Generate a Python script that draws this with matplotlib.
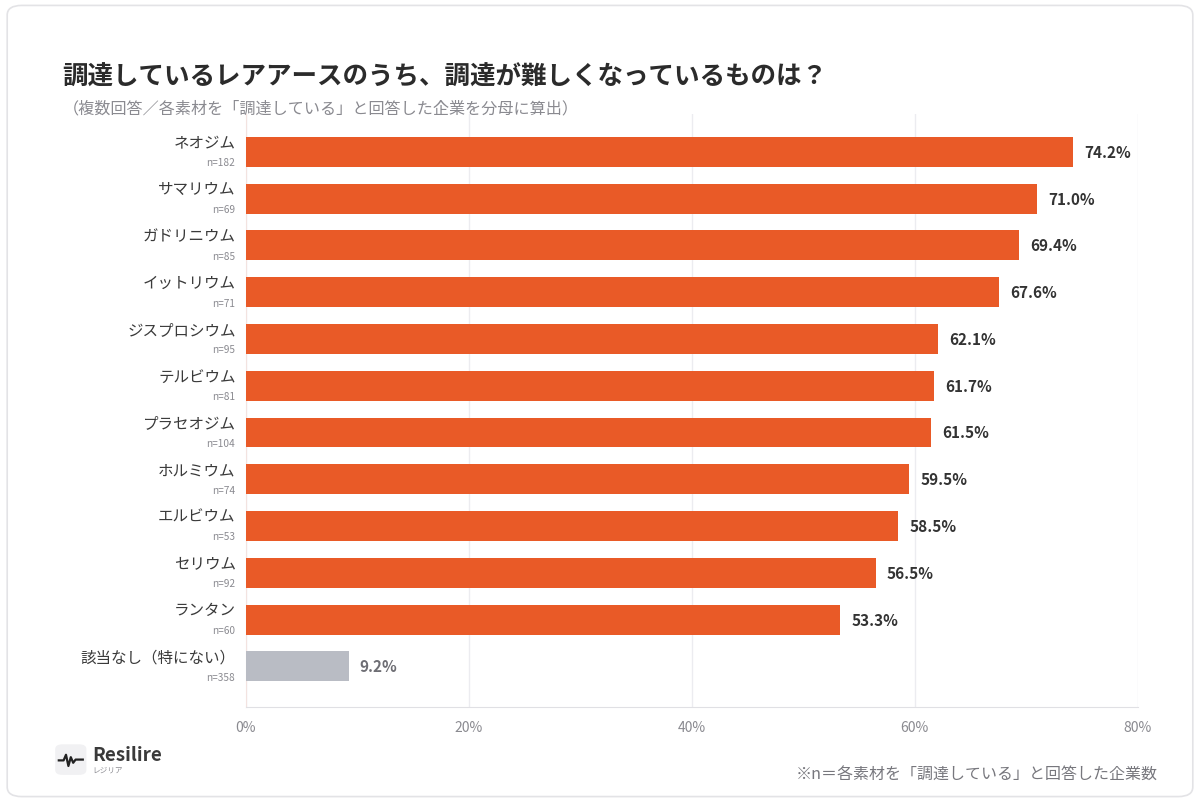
import matplotlib.pyplot as plt
from matplotlib.patches import FancyBboxPatch
import numpy as np

plt.rcParams['font.family'] = ['Noto Sans CJK JP', 'DejaVu Sans']

# data
materials = ['ネオジム', 'サマリウム', 'ガドリニウム', 'イットリウム', 'ジスプロシウム',
             'テルビウム', 'プラセオジム', 'ホルミウム', 'エルビウム', 'セリウム',
             'ランタン', '該当なし（特にない）']
n_counts = [182, 69, 85, 71, 95, 81, 104, 74, 53, 92, 60, 358]
shares = [74.2, 71.0, 69.4, 67.6, 62.1, 61.7, 61.5, 59.5, 58.5, 56.5, 53.3, 9.2]
ticks = [0, 20, 40, 60, 80]

orange = '#E95A27'
grey_bar = '#B9BCC4'
colors = [orange] * (len(shares) - 1) + [grey_bar]

fig = plt.figure(figsize=(12, 8.04), dpi=100)
fig.patch.set_facecolor('white')

# card border
card = FancyBboxPatch((0.006, 0.008), 0.988, 0.984, boxstyle='round,pad=0,rounding_size=0.012',
                      transform=fig.transFigure, facecolor='white', edgecolor='#E3E3E6', lw=1.2,
                      zorder=-10)
fig.patches.append(card)

ax = fig.add_axes([0.205, 0.1194, 0.743, 0.7376])
ax.set_zorder(5)
ax.patch.set_alpha(0)
y = np.arange(len(shares))
ax.barh(y, shares, height=0.64, color=colors, zorder=3)
ax.set_xlim(0, 80)
ax.set_ylim(11.87, -0.81)
ax.set_xticks(ticks)
ax.set_xticklabels([f'{t}%' for t in ticks], color='#8A8A90', fontsize=10)
ax.set_yticks([])
ax.tick_params(axis='x', length=0, pad=9)
ax.grid(axis='x', color='#ECECF0', lw=1, zorder=0)
for s in ['top', 'right']:
    ax.spines[s].set_visible(False)
ax.spines['bottom'].set_color('#E0E0E4')
ax.spines['left'].set_color('#F3E3E0')

for i, (name, n, v) in enumerate(zip(materials, n_counts, shares)):
    ax.annotate(name, (0, i), xytext=(-7.5, 7), textcoords='offset points',
                ha='right', va='center', fontsize=11.2, color='#3A3A3A')
    ax.annotate(f'n={n}', (0, i), xytext=(-8, -7.5), textcoords='offset points',
                ha='right', va='center', fontsize=7.3, color='#8A8A90')
    ax.annotate(f'{v:.1f}%', (v, i), xytext=(8, 0), textcoords='offset points',
                ha='left', va='center', fontsize=11, fontweight='bold',
                color='#6E6E74' if i == len(shares) - 1 else '#333333')

fig.text(0.052, 0.904, '調達しているレアアースのうち、調達が難しくなっているものは？',
         fontsize=18.4, fontweight='bold', color='#2B2B2B', va='center')
fig.text(0.052, 0.865, '（複数回答／各素材を「調達している」と回答した企業を分母に算出）',
         fontsize=11.6, color='#8A8A90', va='center')

# logo
icon = FancyBboxPatch((0.046, 0.035), 0.026, 0.038, boxstyle='round,pad=0,rounding_size=0.006',
                      transform=fig.transFigure, facecolor='#F1F1F3', edgecolor='none')
fig.patches.append(icon)
wx = [0.049, 0.053, 0.055, 0.057, 0.059, 0.061, 0.063, 0.066, 0.069]
wy = [0.053, 0.053, 0.060, 0.046, 0.057, 0.050, 0.054, 0.054, 0.054]
fig.add_artist(plt.Line2D(wx, wy, transform=fig.transFigure, color='#222222', lw=1.6))
fig.text(0.077, 0.060, 'Resilire', fontsize=13.5, fontweight='bold', color='#3A3A3A', va='center')
fig.text(0.077, 0.041, 'レジリア', fontsize=5.5, color='#8A8A90', va='center')

fig.text(0.965, 0.036, '※n＝各素材を「調達している」と回答した企業数',
         fontsize=11.5, color='#77777D', ha='right', va='center')

fig.savefig('out.png', dpi=100, facecolor='white')
